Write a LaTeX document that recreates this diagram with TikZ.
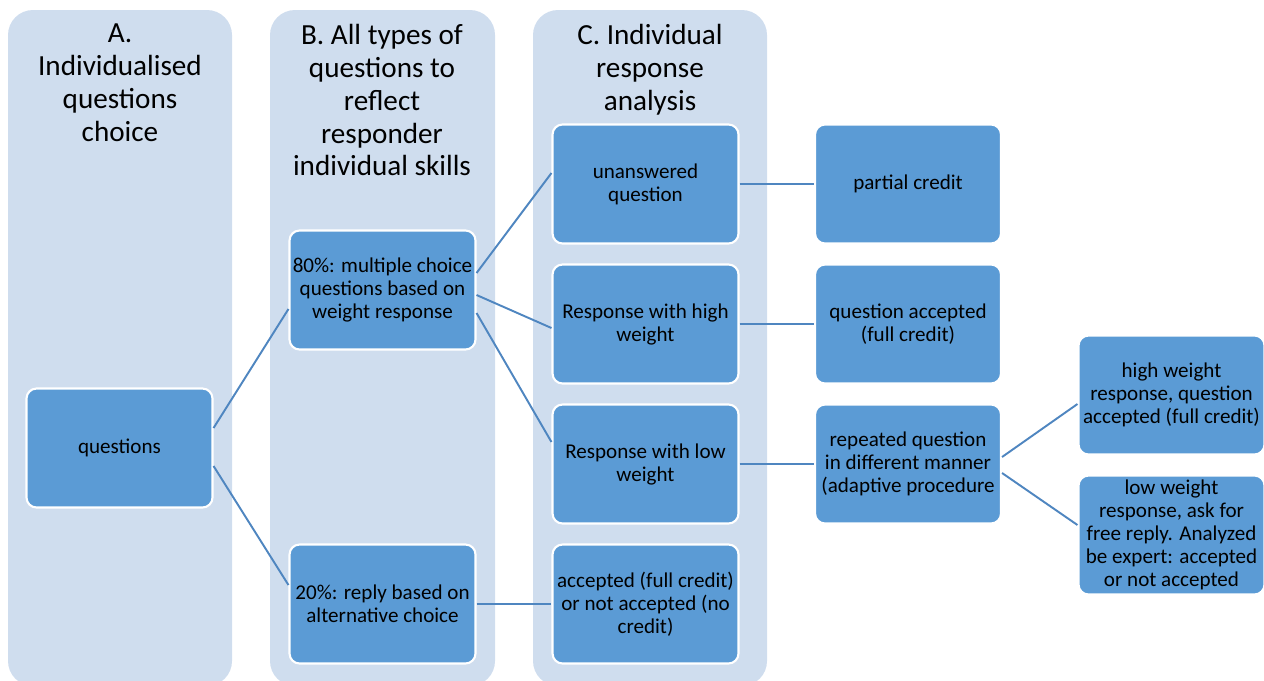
\documentclass[tikz,border=0pt]{standalone}
\usepackage{fontspec}
\setmainfont{Carlito}
\usetikzlibrary{positioning}
\definecolor{colbg}{HTML}{CFDDEE}
\definecolor{boxfill}{HTML}{5B9BD5}
\definecolor{linkcol}{HTML}{4F86C0}

\begin{document}
\begin{tikzpicture}[
  x=0.02cm, y=-0.02cm,
  mycol/.style={fill=colbg,draw=none,rounded corners=0.5cm},
  myhead/.style={anchor=north,align=center,font=\fontsize{16.6}{18.7}\selectfont},
  mynode/.style={draw=white,line width=1.2pt,fill=boxfill,rounded corners=0.2cm,minimum width=3.72cm,minimum height=2.38cm,align=center,inner sep=1pt,font=\fontsize{12}{13.1}\selectfont},
  myline/.style={draw=linkcol,line width=1.1pt}
]
\clip (0,0) rectangle (1264,680);

% columns
\fill[mycol] (8,10) rectangle (232,686);
\fill[mycol] (270,10) rectangle (495,686);
\fill[mycol] (533,10) rectangle (767,686);

\node[myhead] (ha) at (120,18) {A.\\Individualised\\questions\\choice};
\node[myhead] (hb) at (382,18) {B. All types of\\questions to\\reflect\\responder\\individual skills};
\node[myhead] (hc) at (650,18) {C. Individual\\response\\analysis};

% boxes
\node[mynode] (q) at (119.5,448) {questions};
\node[mynode] (m80) at (382.5,290) {80\%: multiple choice\\questions based on\\weight response};
\node[mynode] (m20) at (382.5,604) {20\%: reply based on\\alternative choice};
\node[mynode] (un) at (645.5,184) {unanswered\\question};
\node[mynode] (hi) at (645.5,324) {Response with high\\weight};
\node[mynode] (lo) at (645.5,464) {Response with low\\weight};
\node[mynode] (acc) at (645.5,604) {accepted (full credit)\\or not accepted (no\\credit)};
\node[mynode] (pc) at (908,184) {partial credit};
\node[mynode] (qa) at (908,324) {question accepted\\(full credit)};
\node[mynode] (rep) at (908,464) {repeated question\\in different manner\\(adaptive procedure};
\node[mynode] (hw) at (1171.5,395) {high weight\\response, question\\accepted (full credit)};
\node[mynode] (lw) at (1171.5,535) {low weight\\response, ask for\\free reply. Analyzed\\be expert: accepted\\or not accepted};

% links
\draw[myline] ([yshift=0.4cm]q.east) -- ([yshift=-0.38cm]m80.west);
\draw[myline] ([yshift=-0.36cm]q.east) -- ([yshift=0.38cm]m20.west);
\draw[myline] ([yshift=0.34cm]m80.east) -- ([yshift=0.22cm]un.west);
\draw[myline] ([yshift=-0.1cm]m80.east) -- ([yshift=-0.08cm]hi.west);
\draw[myline] ([yshift=-0.46cm]m80.east) -- ([yshift=0.44cm]lo.west);
\draw[myline] (m20) -- (acc);
\draw[myline] (un) -- (pc);
\draw[myline] (hi) -- (qa);
\draw[myline] (lo) -- (rep);
\draw[myline] ([yshift=0.14cm]rep.east) -- ([yshift=-0.18cm]hw.west);
\draw[myline] ([yshift=-0.18cm]rep.east) -- ([yshift=0.2cm]lw.west);

\end{tikzpicture}
\end{document}
